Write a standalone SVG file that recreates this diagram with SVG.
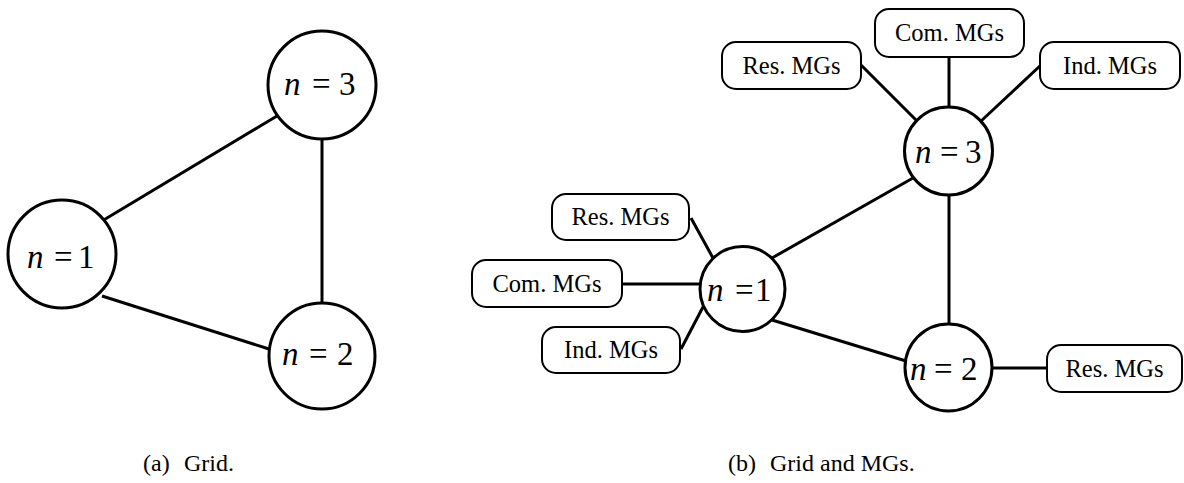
<svg xmlns="http://www.w3.org/2000/svg" width="1184" height="483" viewBox="0 0 1184 483">
  <style>
    .bus { fill: #fff; stroke: #000; stroke-width: 3; }
    .mg { fill: #fff; stroke: #000; stroke-width: 2; }
    .wire { stroke: #000; stroke-width: 3; fill: none; stroke-linecap: butt; }
    text { font-family: 'Liberation Serif', serif; fill: #000; }
    .lbl { font-size: 33px; }
    .v { font-style: italic; }
    .mgt { font-size: 24.5px; text-anchor: middle; }
    .cap { font-size: 24px; }
  </style>

  <!-- connectors -->
  <g id="connectors">
    <!-- (a) grid -->
    <line class="wire" x1="102" y1="221" x2="277" y2="116"/>
    <line class="wire" x1="322" y1="138" x2="322" y2="304"/>
    <line class="wire" x1="102" y1="296" x2="269" y2="349"/>
    <!-- (b) grid -->
    <line class="wire" x1="772" y1="258" x2="913" y2="178"/>
    <line class="wire" x1="949" y1="195" x2="949" y2="324"/>
    <line class="wire" x1="772" y1="320" x2="906" y2="361"/>
    <!-- (b) MGs at bus 1 -->
    <line class="wire" x1="691" y1="218" x2="713" y2="258"/>
    <line class="wire" x1="622" y1="284" x2="700" y2="284"/>
    <line class="wire" x1="681" y1="349" x2="703" y2="307"/>
    <!-- (b) MGs at bus 3 -->
    <line class="wire" x1="861" y1="65" x2="918" y2="122"/>
    <line class="wire" x1="949" y1="57" x2="949" y2="108"/>
    <line class="wire" x1="1041" y1="65" x2="980" y2="122"/>
    <!-- (b) MG at bus 2 -->
    <line class="wire" x1="992" y1="368" x2="1047" y2="368"/>
  </g>

  <!-- (a) buses -->
  <g id="a-n1">
    <circle class="bus" cx="62" cy="254" r="54"/>
    <text class="lbl" y="268"><tspan class="v" x="27">n</tspan><tspan x="54">=</tspan><tspan x="78">1</tspan></text>
  </g>
  <g id="a-n3">
    <circle class="bus" cx="322" cy="85" r="54"/>
    <text class="lbl" y="95"><tspan class="v" x="284">n</tspan><tspan x="312">=</tspan><tspan x="339">3</tspan></text>
  </g>
  <g id="a-n2">
    <circle class="bus" cx="322" cy="356" r="53"/>
    <text class="lbl" y="365"><tspan class="v" x="282">n</tspan><tspan x="309">=</tspan><tspan x="337">2</tspan></text>
  </g>

  <!-- (b) buses -->
  <g id="b-n1">
    <circle class="bus" cx="742.5" cy="289" r="42.5"/>
    <text class="lbl" y="301"><tspan class="v" x="707">n</tspan><tspan x="735">=</tspan><tspan x="755">1</tspan></text>
  </g>
  <g id="b-n3">
    <circle class="bus" cx="948.5" cy="151" r="44"/>
    <text class="lbl" y="163"><tspan class="v" x="915">n</tspan><tspan x="940">=</tspan><tspan x="965">3</tspan></text>
  </g>
  <g id="b-n2">
    <circle class="bus" cx="948.5" cy="367.5" r="43.5"/>
    <text class="lbl" y="380"><tspan class="v" x="910">n</tspan><tspan x="934">=</tspan><tspan x="961">2</tspan></text>
  </g>

  <!-- (b) microgrid aggregates -->
  <g id="mg-res-1">
    <rect class="mg" x="552" y="194" width="137" height="46" rx="14"/>
    <text class="mgt" x="620.5" y="225">Res. MGs</text>
  </g>
  <g id="mg-com-1">
    <rect class="mg" x="472" y="260" width="150" height="47" rx="14"/>
    <text class="mgt" x="547" y="292">Com. MGs</text>
  </g>
  <g id="mg-ind-1">
    <rect class="mg" x="542" y="327" width="138" height="46" rx="14"/>
    <text class="mgt" x="611" y="358">Ind. MGs</text>
  </g>
  <g id="mg-res-3">
    <rect class="mg" x="722" y="42" width="139" height="47" rx="14"/>
    <text class="mgt" x="791.5" y="74">Res. MGs</text>
  </g>
  <g id="mg-com-3">
    <rect class="mg" x="875" y="9" width="149" height="48" rx="14"/>
    <text class="mgt" x="949.5" y="41">Com. MGs</text>
  </g>
  <g id="mg-ind-3">
    <rect class="mg" x="1040" y="42" width="140" height="47" rx="14"/>
    <text class="mgt" x="1110" y="74">Ind. MGs</text>
  </g>
  <g id="mg-res-2">
    <rect class="mg" x="1047" y="345" width="135" height="47" rx="14"/>
    <text class="mgt" x="1114.5" y="377">Res. MGs</text>
  </g>

  <!-- captions -->
  <text class="cap" x="143" y="471">(a)<tspan x="184">Grid.</tspan></text>
  <text class="cap" x="728" y="471">(b)<tspan x="770">Grid and MGs.</tspan></text>
</svg>
